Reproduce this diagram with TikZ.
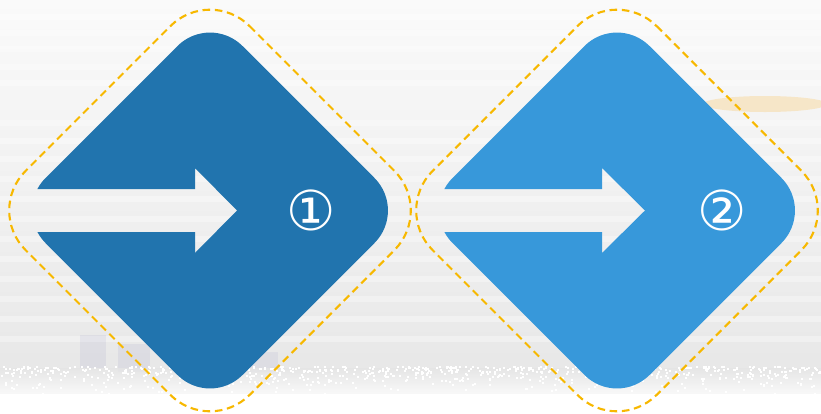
\documentclass[tikz,border=0pt]{standalone}
\usepackage{fontspec}
\newfontfamily\circnum{DejaVu Sans}
\usetikzlibrary{calc}
\definecolor{deepblue}{RGB}{33,116,174}
\definecolor{skyblue}{RGB}{55,152,218}
\definecolor{kiiro}{RGB}{247,184,0}
\begin{document}
\begin{tikzpicture}[x=0.03cm, y=-0.03cm,
    frame/.style={draw=kiiro, line width=1.8pt, dash pattern=on 6.5pt off 4pt, rounded corners=1.68cm},
    tile/.style={rounded corners=1.38cm},
    num/.style={text=white, font=\circnum\fontsize{47}{47}\selectfont, inner sep=0pt}]
        \useasboundingbox (0,0) rectangle (821,413);
        % background
        \shade[top color=white!96!gray, bottom color=white!80!gray] (0,0) rectangle (821,413);
        \foreach \y in {14,30,46,64,80,120,138,156,176,196,216,236,256,276,296,316,336}
            \fill[white, opacity=.35] (0,\y) rectangle (821,\y+6);
        \fill[orange!70!yellow, opacity=.18] (765,104) ellipse (62 and 8);
        \fill[gray!70!blue, opacity=.08] (80,335) rectangle (106,368);
        \fill[gray!70!blue, opacity=.08] (118,344) rectangle (150,372);
        \fill[gray!70!blue, opacity=.07] (250,352) rectangle (278,372);
        \shade[top color=white!80!gray, bottom color=white, opacity=.8] (0,368) rectangle (821,396);
        \fill[white] (0,394) rectangle (821,414);
        \pgfmathsetseed{11}
        \foreach \i in {1,...,800}{
            \pgfmathsetmacro\px{rnd*821}
            \pgfmathsetmacro\py{366+rnd*rnd*30}
            \fill[white] (\px,\py) rectangle ++(2,2);
        }
        % centers
        \coordinate (c1) at (210,210.5);
        \coordinate (c2) at (617,210.5);
        % dashed frames
        \draw[frame] ($(c1)+(0,-224)$) -- ($(c1)+(224,0)$) -- ($(c1)+(0,224)$) -- ($(c1)+(-224,0)$) -- cycle;
        \draw[frame] ($(c2)+(0,-224)$) -- ($(c2)+(224,0)$) -- ($(c2)+(0,224)$) -- ($(c2)+(-224,0)$) -- cycle;
        % tiles, arrow cut out
        \foreach \c/\col/\hb/\tip in {c1/deepblue/195/237, c2/skyblue/602/645}{
            \begin{scope}
                \clip[tile] ($(\c)+(0,-197)$) -- ($(\c)+(197,0)$) -- ($(\c)+(0,197)$) -- ($(\c)+(-197,0)$) -- cycle;
                \fill[\col, even odd rule] ($(\c)+(-200,-200)$) rectangle ($(\c)+(200,200)$)
                    ($(\c)+(-220,-21.5)$) -- (\hb,189) -- (\hb,168) -- (\tip,210.5)
                    -- (\hb,253) -- (\hb,232) -- ($(\c)+(-220,21.5)$) -- cycle;
            \end{scope}
        }
        \node[num] (n1) at (311,210) {①};
        \node[num] (n2) at (722,210) {②};
    \end{tikzpicture}
\end{document}
